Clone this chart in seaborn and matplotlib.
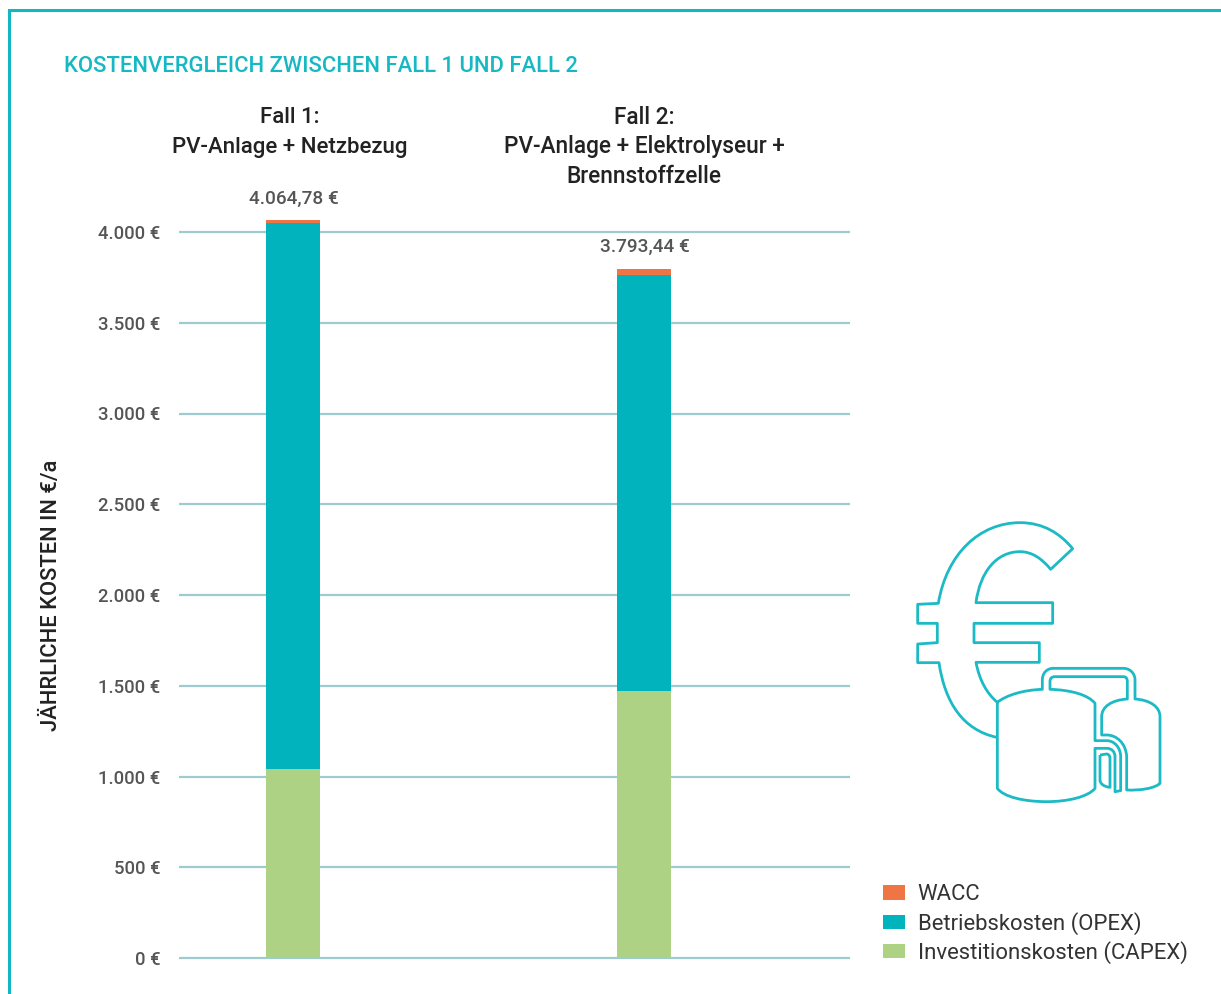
import matplotlib
matplotlib.use("Agg")
import matplotlib.pyplot as plt
import seaborn as sns
import numpy as np
import pandas as pd
from matplotlib.path import Path
from matplotlib.patches import PathPatch, Patch

cases = ["Fall 1", "Fall 2"]
capex = [1041, 1471]
opex = [3009, 2292]
wacc = [14.78, 30.44]
total_labels = ["4.064,78 €", "3.793,44 €"]
headers = ["Fall 1:\nPV-Anlage + Netzbezug", "Fall 2:\nPV-Anlage + Elektrolyseur +\nBrennstoffzelle"]
yticks = [0, 500, 1000, 1500, 2000, 2500, 3000, 3500, 4000]
ytick_labels = ["0 €", "500 €", "1.000 €", "1.500 €", "2.000 €", "2.500 €", "3.000 €", "3.500 €", "4.000 €"]
series_names = ["WACC", "Betriebskosten (OPEX)", "Investitionskosten (CAPEX)"]
title = "KOSTENVERGLEICH ZWISCHEN FALL 1 UND FALL 2"
ylabel = "JÄHRLICHE KOSTEN IN €/a"

TEAL = "#00B3BD"
ORANGE = "#EF7545"
GREEN = "#AED284"
GRID = "#9DCBD0"
FRAME = "#12B7C2"
W, H = 1221, 994

sns.set_theme(style="white")
plt.rcParams["font.family"] = ["Roboto", "DejaVu Sans"]

fig = plt.figure(figsize=(W / 100, H / 100), dpi=100, facecolor="white")
ax = fig.add_axes([179 / W, 1 - 958 / H, (850 - 179) / W, (958 - 213.85) / H])

df = pd.DataFrame({"case": cases, "capex": capex, "opex": opex, "wacc": wacc})
df["c1"] = df["capex"]
df["c2"] = df["c1"] + df["opex"]
df["c3"] = df["c2"] + df["wacc"]
for col, color in [("c3", ORANGE), ("c2", TEAL), ("c1", GREEN)]:
    sns.barplot(data=df, x="case", y=col, color=color, width=0.154, saturation=1, ax=ax, zorder=3, linewidth=0)

ax.set_xlim(-0.325, 1.587)
ax.set_ylim(0, 4100)
ax.set_yticks(yticks, ytick_labels)
ax.set_xticks([])
ax.set_xlabel("")
ax.set_ylabel("")
ax.grid(False)
for v in yticks:
    ax.axhline(v, color=GRID, lw=1.6, zorder=1, clip_on=False, solid_capstyle="butt")
for s in ax.spines.values():
    s.set_visible(False)
ax.tick_params(axis="y", length=0, pad=13.5, labelsize=13.3, labelcolor="#555555")
for t in ax.get_yticklabels():
    t.set_fontweight("medium")

for i, (lab, tot) in enumerate(zip(total_labels, df["c3"])):
    ax.annotate(lab, (i, tot), xytext=(0.8, 9 if i == 0 else 10), textcoords="offset points",
                ha="center", va="bottom", fontsize=13.7, color="#555555", fontweight="medium")

# overlay in pixel coordinates for titles, frame and icon
ov = fig.add_axes([0, 0, 1, 1], facecolor="none")
ov.set_xlim(0, W)
ov.set_ylim(H, 0)
ov.axis("off")

ov.plot([8.5, 8.5, W], [H, 9.5, 9.5], color=FRAME, lw=2.2, solid_joinstyle="miter")
ov.text(64, 67, title, color="#16B8C3", fontsize=15.8, fontweight="medium", va="center", ha="left")
ov.text(290, 132.5, headers[0], color="#222222", fontsize=16, fontweight="medium", ha="center", va="center", linespacing=1.54)
ov.text(644, 147, headers[1], color="#222222", fontsize=16.3, fontweight="medium", ha="center", va="center", linespacing=1.38)
ov.text(52, 595, ylabel, rotation=90, color="#222222", fontsize=15.75, fontweight="medium", ha="center", va="center")

M, L, C, Z = Path.MOVETO, Path.LINETO, Path.CURVE4, Path.CLOSEPOLY


def icon(segments):
    verts, codes = [], []
    for seg in segments:
        if len(seg) == 2:
            codes.append(L if verts else M)
            verts.append(seg)
        else:
            verts += [seg[0:2], seg[2:4], seg[4:6]]
            codes += [C, C, C]
    v = np.array(verts, float) / 3 + [880, 500]
    ov.add_patch(PathPatch(Path(v, codes), fc="none", ec="#1BBAC5", lw=2.0, joinstyle="round"))


# euro sign
icon([(350, 712), (250, 690, 195, 610, 177, 488), (113, 488), (113, 432), (172, 428), (172, 370), (113, 370),
      (113, 313), (175, 310), (200, 160, 300, 68, 420, 68), (490, 68, 540, 100, 578, 146), (512, 208),
      (485, 175, 455, 155, 420, 155), (350, 155, 300, 215, 288, 308), (518, 308), (518, 370), (282, 370),
      (282, 428), (478, 428), (478, 487), (288, 487), (298, 540, 320, 580, 352, 607)])
# tanks
icon([(352, 607), (380, 585, 430, 570, 487, 568), (487, 540), (487, 520, 500, 505, 520, 505), (730, 505),
      (750, 505, 765, 520, 765, 540), (765, 597), (810, 600, 840, 620, 840, 650), (840, 850),
      (825, 865, 780, 872, 740, 870), (740, 770), (738, 730, 710, 705, 680, 705), (665, 705), (665, 650),
      (665, 620, 695, 600, 742, 597), (742, 545), (742, 535, 738, 530, 730, 530), (525, 530),
      (515, 530, 510, 535, 510, 545), (510, 568), (575, 570, 625, 585, 645, 610), (645, 722), (680, 722),
      (705, 722, 722, 745, 722, 770), (722, 872), (705, 875), (705, 770), (705, 755, 695, 745, 680, 745),
      (645, 745), (645, 865), (625, 890, 565, 905, 500, 905), (430, 905, 370, 890, 352, 865), (352, 607)])
icon([(660, 765), (680, 762), (686, 762, 690, 768, 690, 775), (690, 862), (670, 860, 660, 850, 660, 840), (660, 765)])

handles = [Patch(color=c, lw=0) for c in (ORANGE, TEAL, GREEN)]
fig.legend(handles, series_names, loc="lower left", bbox_to_anchor=(865 / W, 1 - 981.5 / H), frameon=False,
           fontsize=15.95, handlelength=1.0, handleheight=0.62, handletextpad=0.58, labelspacing=0.28,
           borderpad=0.3, labelcolor="#333333")

fig.savefig("out.png", dpi=100)
